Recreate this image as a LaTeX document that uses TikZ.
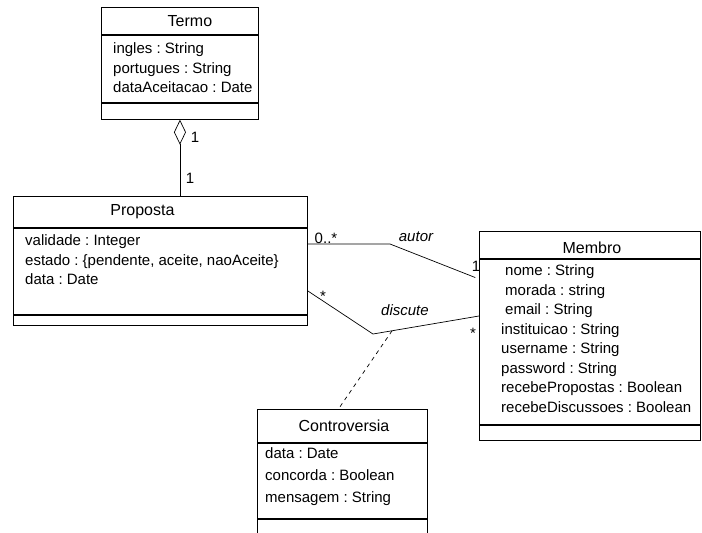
\documentclass[tikz,border=0pt]{standalone}
\usepackage{fontspec}
\setmainfont{Liberation Sans}
\frenchspacing
\usetikzlibrary{positioning,calc,arrows.meta}
\tikzset{
  >=stealth,
  every node/.style={font=\fontsize{15}{19.5}\selectfont},
  % --- class compartments
  cls/.style    = {draw, line width=0.9pt, inner sep=0pt},
  ctitle/.style = {cls, anchor=north west, font=\fontsize{16}{19.5}\selectfont},
  cbox/.style   = {cls, anchor=north},
  ctext/.style  = {inner sep=0pt, anchor=west, align=left},
  lbl/.style    = {inner sep=0pt},
  role/.style   = {lbl, font=\fontsize{15}{18}\selectfont\itshape},
  % --- edges
  assoc/.style  = {line width=0.7pt},
  aggr/.style   = {assoc, {Diamond[open,length=25pt,width=12pt]}-},
  link/.style   = {assoc, dash pattern=on 4pt off 4pt},
}
\begin{document}
\begin{tikzpicture}[x=1pt,y=-1pt]
  \useasboundingbox (0,0) rectangle (702,533);
  \node[ctitle, minimum width=157pt, minimum height=27pt] (termo) at (101,7) {\hspace*{20pt}Termo};
  \node[cbox, minimum width=157pt, minimum height=67pt] (termoA) at (termo.south) {};
  \node[cbox, minimum width=157pt, minimum height=16pt] (termoO) at (termoA.south) {};
  \node[ctext] (termoT) at ([xshift=12pt,yshift=1pt]termoA.west)
    {ingles : String\\portugues : String\\dataAceitacao : Date};

  \node[ctitle, minimum width=294pt, minimum height=31pt] (prop) at (13,196) {Proposta\hspace*{36pt}};
  \node[cbox, minimum width=294pt, minimum height=86pt] (propA) at (prop.south) {};
  \node[cbox, minimum width=294pt, minimum height=10pt] (propO) at (propA.south) {};
  \node[ctext, anchor=north west] (propT) at ([xshift=12pt,yshift=-7pt]propA.north west)
    {validade : Integer\\estado : \{pendente, aceite, naoAceite\}\\data : Date};

  \node[ctitle, minimum width=221pt, minimum height=27pt, text depth=0pt, text height=18pt] (membro) at (479,231) {\hspace*{4pt}Membro};
  \node[cbox, minimum width=221pt, minimum height=165pt] (membroA) at (membro.south) {};
  \node[cbox, minimum width=221pt, minimum height=15pt] (membroO) at (membroA.south) {};
  \node[ctext] (membroT) at ([xshift=22pt,yshift=3pt]membroA.west)
    {\hspace*{4pt}nome : String\\\hspace*{4pt}morada : string\\\hspace*{4pt}email : String\\
     instituicao : String\\username : String\\password : String\\
     recebePropostas : Boolean\\recebeDiscussoes : Boolean};

  \node[ctitle, minimum width=170pt, minimum height=33pt] (ctr) at (257,409) {\hspace*{3pt}Controversia};
  \node[cbox, minimum width=170pt, minimum height=75pt] (ctrA) at (ctr.south) {};
  \node[cbox, minimum width=170pt, minimum height=25pt] (ctrO) at (ctrA.south) {};
  \node[ctext] (ctrT) at ([xshift=8pt,yshift=4pt]ctrA.west)
    {data : Date\\[2.5pt]concorda : Boolean\\[2.5pt]mensagem : String};

  \coordinate (autorbend) at (390,244);
  \coordinate (autorend) at (479,279);
  \coordinate (discstart) at (310,291);
  \coordinate (discbend) at (373,334);
  \coordinate (discend) at (479,316);

  \draw[aggr] (termoO.south) -- (termoO.south |- prop.north);
  \draw[assoc, shorten >=4pt] (propA.east |- autorbend) -- (autorbend) -- (membroA.west |- autorend);
  \draw[assoc] (propA.east |- discstart) -- (discbend) -- (membroA.west |- discend);
  \draw[link] ($(discbend)!0.18!(membroA.west |- discend)$) -- ([xshift=-4pt]ctr.north);

  \node[lbl] (m1) at (195,137) {1};
  \node[lbl] (m2) at (190,178) {1};
  \node[lbl] (m3) at (326,238) {0..*};
  \node[role] (r1) at (416,237) {autor};
  \node[lbl] (m4) at (476,266) {1};
  \node[lbl] (m5) at (323,296) {*};
  \node[role] (r2) at (405,310) {discute};
  \node[lbl] (m6) at (473,333) {*};
\end{tikzpicture}
\end{document}
